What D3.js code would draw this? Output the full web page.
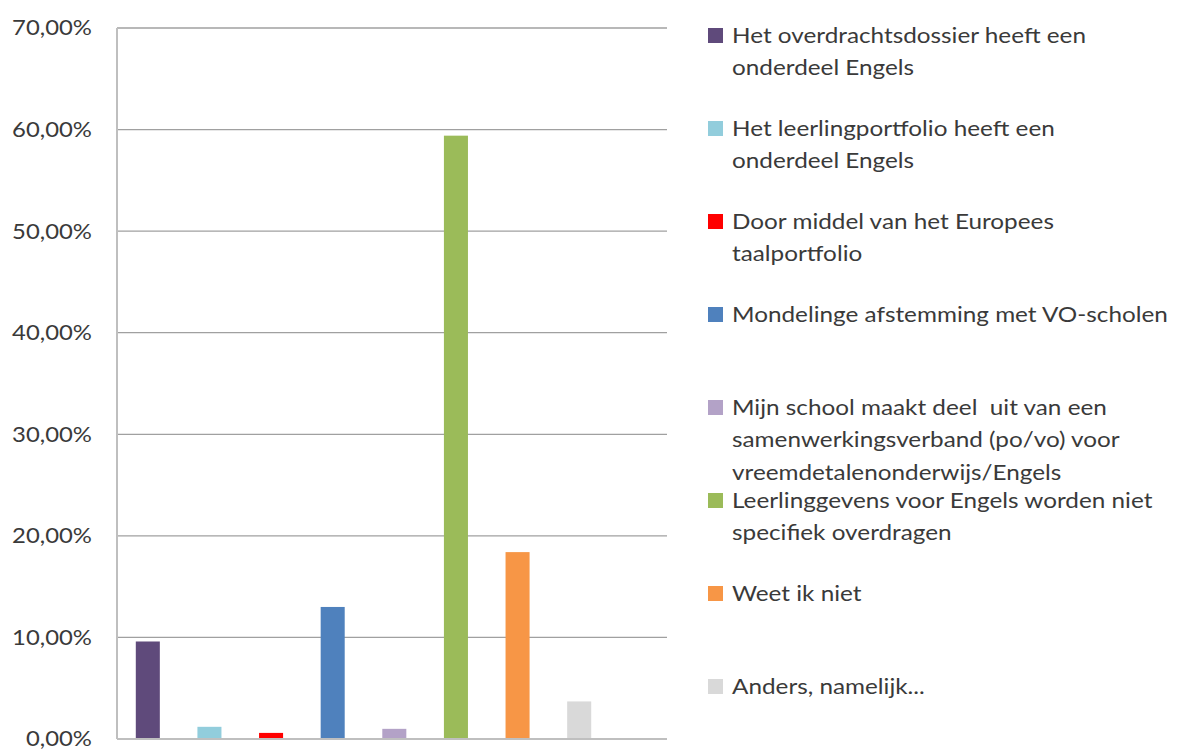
<!DOCTYPE html>
<html>
<head>
	<meta charset="utf-8">
	<title>Overdracht Engels po-vo</title>
</head>
<style>
	body { margin:0; background:#fff; }
	text { font-family: Lato, "Open Sans", sans-serif; fill:#3a3a3a; }
</style>
<body>
<script src="https://cdnjs.cloudflare.com/ajax/libs/d3/7.8.5/d3.min.js"></script>
<svg width="1178" height="751"></svg>
<script>

	var categories = [
		"Het overdrachtsdossier heeft een|onderdeel Engels",
		"Het leerlingportfolio heeft een|onderdeel Engels",
		"Door middel van het Europees|taalportfolio",
		"Mondelinge afstemming met VO-scholen",
		"Mijn school maakt deel  uit van een|samenwerkingsverband (po/vo) voor|vreemdetalenonderwijs/Engels",
		"Leerlinggevens voor Engels worden niet|specifiek overdragen",
		"Weet ik niet",
		"Anders, namelijk..."
	];
	var values = [9.6, 1.2, 0.6, 13.0, 1.0, 59.4, 18.4, 3.7];
	var colors = ["#5f4a7b", "#92cddc", "#ff0000", "#4f81bd", "#b3a2c7", "#9bbb59", "#f79646", "#d9d9d9"];
	var yTicks = [0, 10, 20, 30, 40, 50, 60, 70];

	var svg = d3.select("svg");
	var plot = {left:117, right:667, top:28, bottom:739};

	var y = d3.scaleLinear()
			  .domain([0,70])
			  .range([plot.bottom, plot.top]);

	var x = d3.scaleBand()
			  .domain(d3.range(categories.length))
			  .range([plot.left, plot.left + 493])
			  .paddingInner(0.61)
			  .paddingOuter(0.305);

	var fmt = function(v){ return v.toFixed(2).replace(".", ",") + "%"; };

	// gridlines
	svg.append("g").selectAll("line")
	   .data(yTicks.filter(function(d){ return d > 0; }))
	   .enter().append("line")
	   .attr("x1", plot.left).attr("x2", plot.right)
	   .attr("y1", function(d){ return y(d); })
	   .attr("y2", function(d){ return y(d); })
	   .attr("stroke", "#a0a0a0")
	   .attr("stroke-width", 1.3);

	// bars
	svg.append("g").selectAll("rect")
	   .data(values)
	   .enter().append("rect")
	   .attr("x", function(d,i){ return x(i); })
	   .attr("width", x.bandwidth())
	   .attr("y", function(d){ return y(d); })
	   .attr("height", function(d){ return y(0) - y(d); })
	   .attr("fill", function(d,i){ return colors[i]; });

	// axes
	var yAxis = svg.append("g")
				   .attr("transform", "translate(" + plot.left + ",0)")
				   .call(d3.axisLeft(y).tickValues(yTicks).tickSize(0).tickPadding(0).tickFormat(fmt));
	yAxis.select(".domain").remove();
	yAxis.selectAll("text")
		 .attr("x", 0)
		 .attr("transform", "translate(-25,0) scale(1.11,1)")
		 .attr("font-size", 21.5)
		 .style("font-family", "Lato, sans-serif")
		 .attr("fill", "#3a3a3a");

	svg.append("line")
	   .attr("x1", plot.left).attr("x2", plot.left)
	   .attr("y1", plot.top).attr("y2", plot.bottom)
	   .attr("stroke", "#bfbfbf").attr("stroke-width", 2);
	svg.append("line")
	   .attr("x1", plot.left).attr("x2", plot.right)
	   .attr("y1", plot.bottom).attr("y2", plot.bottom)
	   .attr("stroke", "#bfbfbf").attr("stroke-width", 2);

	// legend
	var legend = svg.append("g").selectAll("g")
					.data(categories)
					.enter().append("g")
					.attr("transform", function(d,i){ return "translate(708," + (43 + i*93) + ")"; });

	legend.append("rect")
		  .attr("y", -15).attr("width", 15).attr("height", 15)
		  .attr("fill", function(d,i){ return colors[i]; });

	legend.append("text")
		  .attr("transform", "translate(24,0) scale(1.13,1)")
		  .attr("font-size", 21.5)
		  .selectAll("tspan")
		  .data(function(d){ return d.split("|"); })
		  .enter().append("tspan")
		  .attr("x", 0)
		  .attr("y", function(d,i){ return i*32.5; })
		  .attr("xml:space", "preserve")
		  .text(function(d){ return d; });

</script>
</body>
</html>
